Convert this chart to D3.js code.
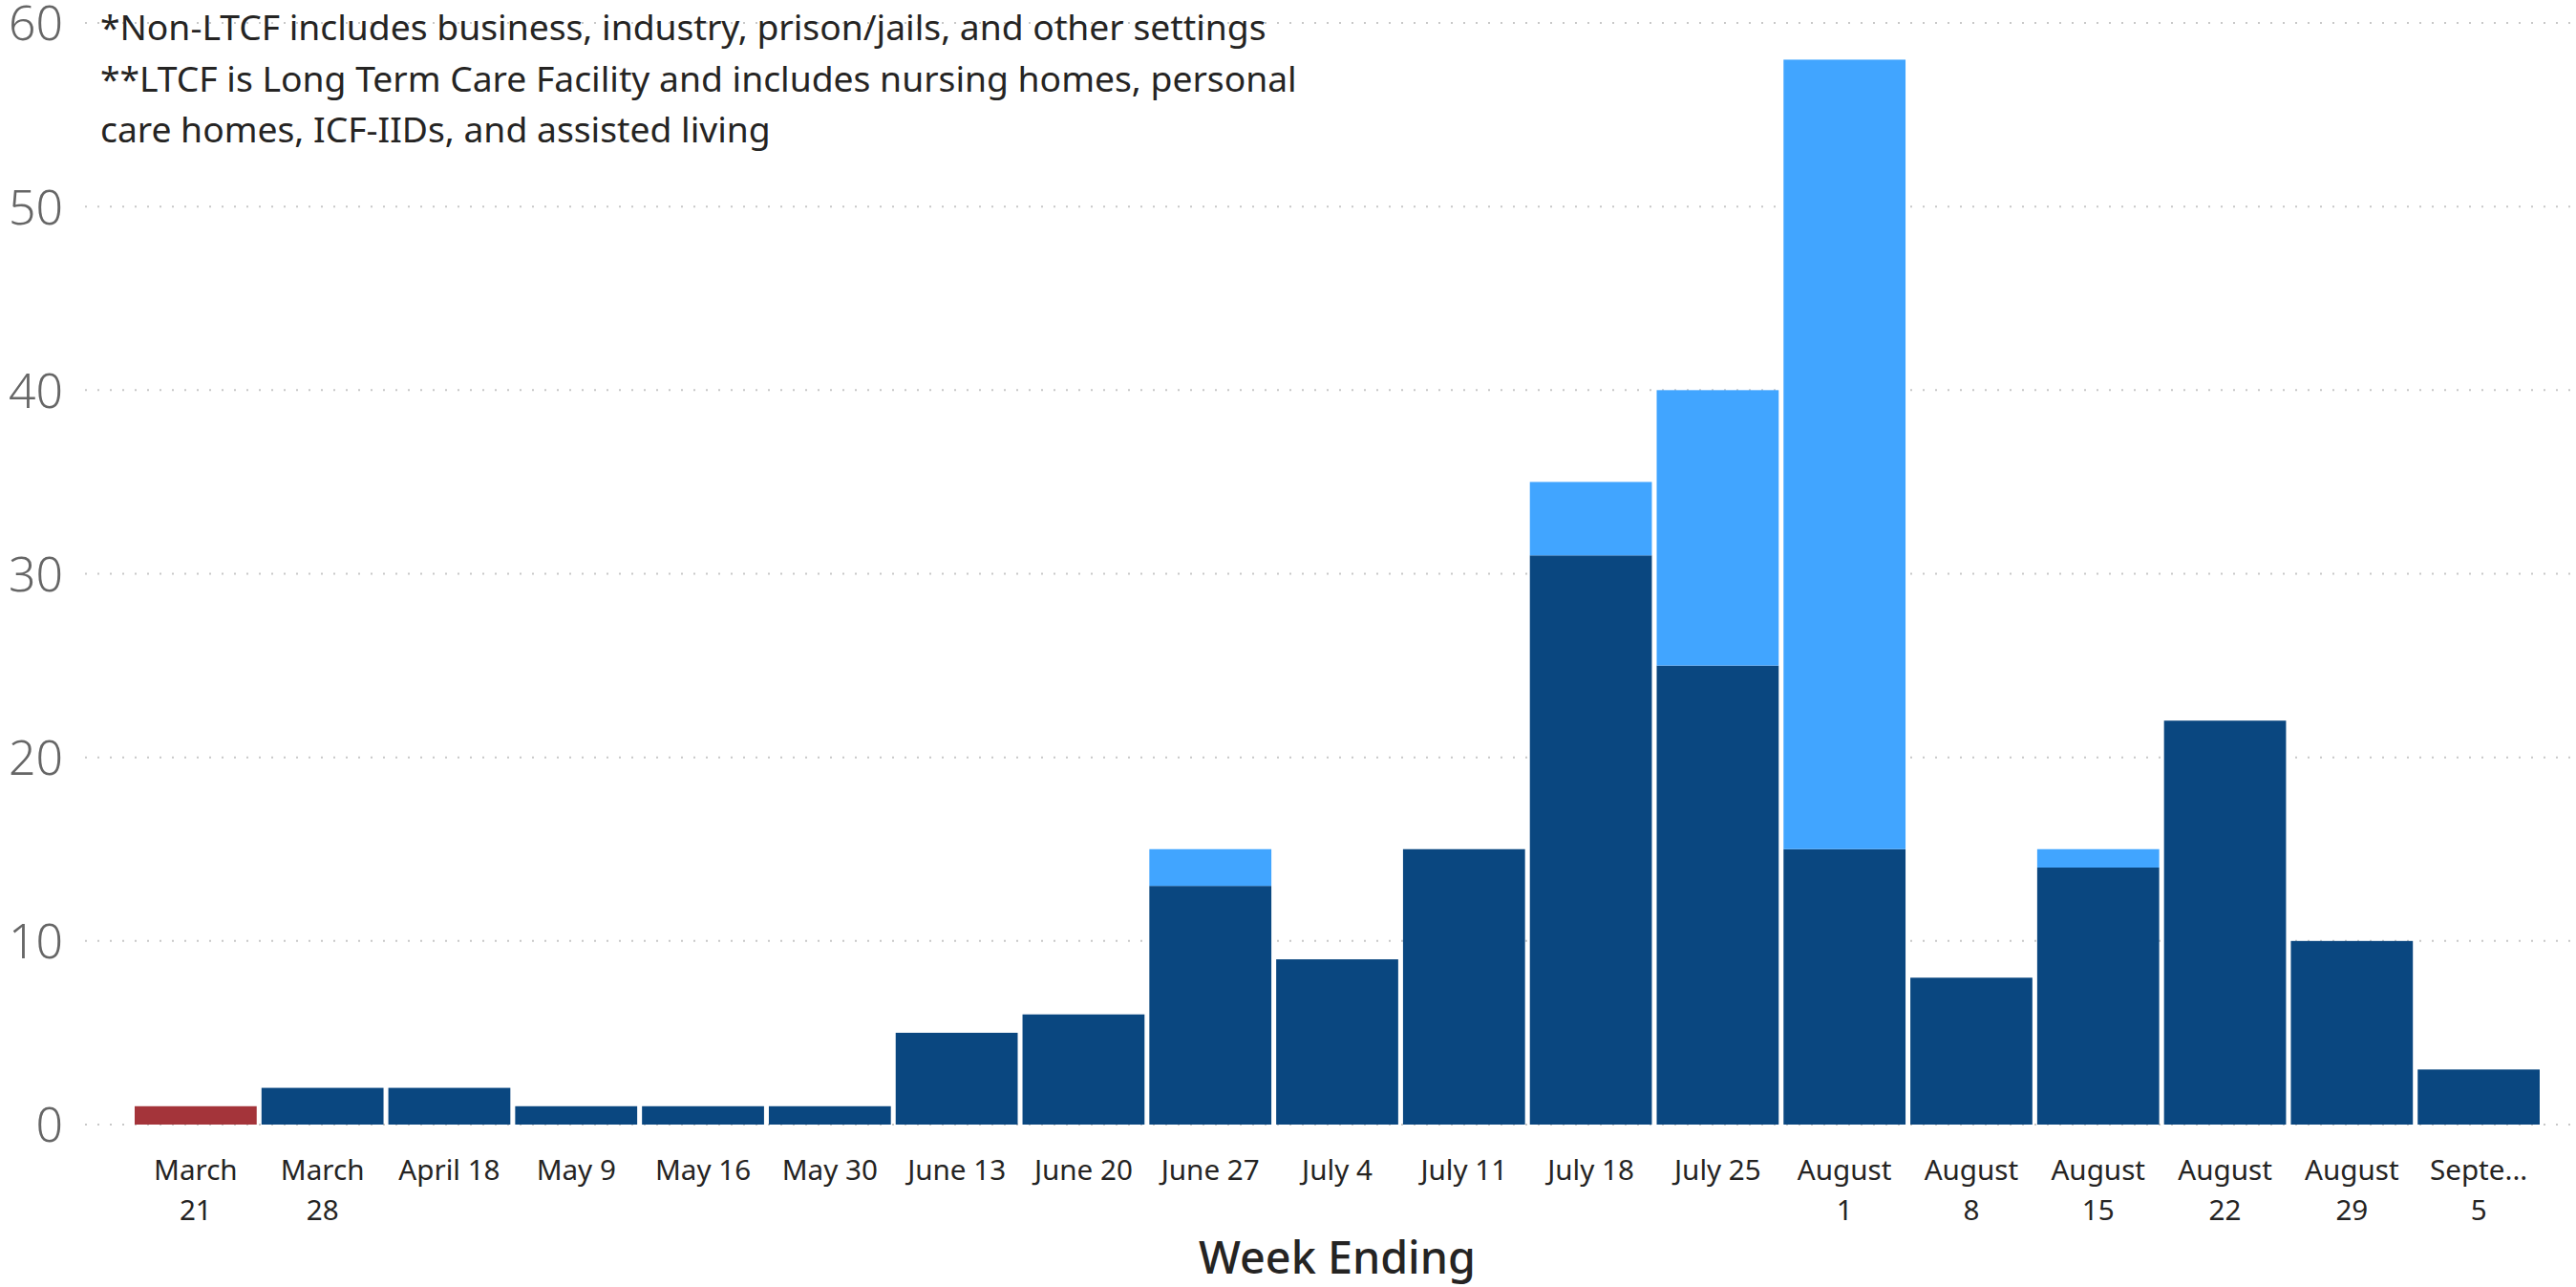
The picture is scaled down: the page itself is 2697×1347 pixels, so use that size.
<!DOCTYPE html>
<html>
<head>
<meta charset="utf-8">
<script src="https://cdn.jsdelivr.net/npm/d3@7"></script>
<style>
  html, body { margin: 0; padding: 0; background: #ffffff; }
  svg { display: block; }
</style>
</head>
<body>
<svg id="chart" width="2697" height="1347"></svg>
<script>
// ---- DATA ----
const categories = ["March 21", "March 28", "April 18", "May 9", "May 16", "May 30",
  "June 13", "June 20", "June 27", "July 4", "July 11", "July 18", "July 25",
  "August 1", "August 8", "August 15", "August 22", "August 29", "September 5"];
// two-line tick labels as displayed
const tickLines = [["March", "21"], ["March", "28"], ["April 18"], ["May 9"], ["May 16"], ["May 30"],
  ["June 13"], ["June 20"], ["June 27"], ["July 4"], ["July 11"], ["July 18"], ["July 25"],
  ["August", "1"], ["August", "8"], ["August", "15"], ["August", "22"], ["August", "29"], ["Septe...", "5"]];
const seriesRed   = [1, 0, 0, 0, 0, 0, 0, 0, 0, 0, 0, 0, 0, 0, 0, 0, 0, 0, 0];
const seriesDark  = [0, 2, 2, 1, 1, 1, 5, 6, 13, 9, 15, 31, 25, 15, 8, 14, 22, 10, 3];
const seriesLight = [0, 0, 0, 0, 0, 0, 0, 0, 2, 0, 0, 4, 15, 43, 0, 1, 0, 0, 0];
const yTicks = [0, 10, 20, 30, 40, 50, 60];
const notes = [
  "*Non-LTCF includes business, industry, prison/jails, and other settings",
  "**LTCF is Long Term Care Facility and includes nursing homes, personal",
  "care homes, ICF-IIDs, and assisted living"
];
const xTitle = "Week Ending";

// ---- CHART ----
const svg = d3.select("#chart");
const FONT = "'Noto Sans', 'Open Sans', sans-serif";
const colors = { red: "#A4343A", dark: "#0A4780", light: "#41A5FF" };

const x = d3.scaleBand().domain(categories).range([141, 2659]).paddingInner(0.038).paddingOuter(0);
const y = d3.scaleLinear().domain([0, 60]).range([1177, 24]);

function fitText(sel, targetWidth) {
  const node = sel.node();
  const fs = parseFloat(sel.attr("font-size"));
  const w = node.getComputedTextLength();
  if (w > 0) sel.attr("font-size", fs * targetWidth / w);
  return parseFloat(sel.attr("font-size"));
}

// gridlines
svg.append("g").selectAll("line").data(yTicks).join("line")
  .attr("x1", 89).attr("x2", 2697)
  .attr("y1", d => y(d)).attr("y2", d => y(d))
  .attr("stroke", "#c8c8c8").attr("stroke-width", 2)
  .attr("stroke-dasharray", "2 11");

// y axis labels
const yAxis = d3.axisLeft(y).tickValues(yTicks).tickSize(0).tickPadding(0);
const yg = svg.append("g").attr("transform", "translate(66,0)").call(yAxis);
yg.select(".domain").remove();
yg.selectAll("text")
  .attr("font-family", FONT).attr("font-weight", 300)
  .attr("font-size", 52).attr("fill", "#666666")
  .attr("dy", "0.36em");
// fit "60" width ~57
const t60 = yg.selectAll("text").filter(d => d === 60);
const yfs = fitText(t60, 57);
yg.selectAll("text").attr("font-size", yfs);

// stacked bars
const rows = categories.map((c, i) => ({ cat: c, red: seriesRed[i], dark: seriesDark[i], light: seriesLight[i] }));
const stack = d3.stack().keys(["red", "dark", "light"]);
const stacked = stack(rows);
svg.append("g").selectAll("g").data(stacked).join("g")
  .attr("fill", d => colors[d.key])
  .selectAll("rect").data(d => d.filter(s => s[1] - s[0] > 0)).join("rect")
  .attr("x", d => x(d.data.cat))
  .attr("width", x.bandwidth())
  .attr("y", d => y(d[1]))
  .attr("height", d => y(d[0]) - y(d[1]));

// x axis labels
const xAxis = d3.axisBottom(x).tickSize(0).tickFormat(() => "");
const xg = svg.append("g").attr("transform", "translate(0,1177)").call(xAxis);
xg.select(".domain").remove();
xg.selectAll(".tick text").remove();
const xlab = svg.append("g");
categories.forEach((c, i) => {
  const cx = x(c) + x.bandwidth() / 2;
  tickLines[i].forEach((line, j) => {
    xlab.append("text")
      .attr("class", "xt")
      .attr("x", cx).attr("y", 1235 + j * 42)
      .attr("text-anchor", "middle")
      .attr("font-family", FONT).attr("font-size", 30)
      .attr("fill", "#252423")
      .text(line);
  });
});
// fit "June 27" width to ~103
const jt = xlab.selectAll("text.xt").filter(function() { return this.textContent === "June 27"; });
const xfs = fitText(jt, 103);
xlab.selectAll("text.xt").attr("font-size", xfs);

// x axis title
const title = svg.append("text")
  .attr("x", 1400).attr("y", 1333)
  .attr("text-anchor", "middle")
  .attr("font-family", FONT).attr("font-size", 50)
  .attr("font-weight", 500)
  .attr("fill", "#252423")
  .text(xTitle);
fitText(title, 290);

// notes
const ng = svg.append("g");
const baselines = [42, 96, 149];
notes.forEach((n, i) => {
  ng.append("text")
    .attr("x", 105).attr("y", baselines[i])
    .attr("font-family", FONT).attr("font-size", 38)
    .attr("fill", "#252423")
    .text(n);
});
const n0 = ng.select("text");
const nfs = fitText(n0, 1221);
ng.selectAll("text").attr("font-size", nfs);
</script>
</body>
</html>
